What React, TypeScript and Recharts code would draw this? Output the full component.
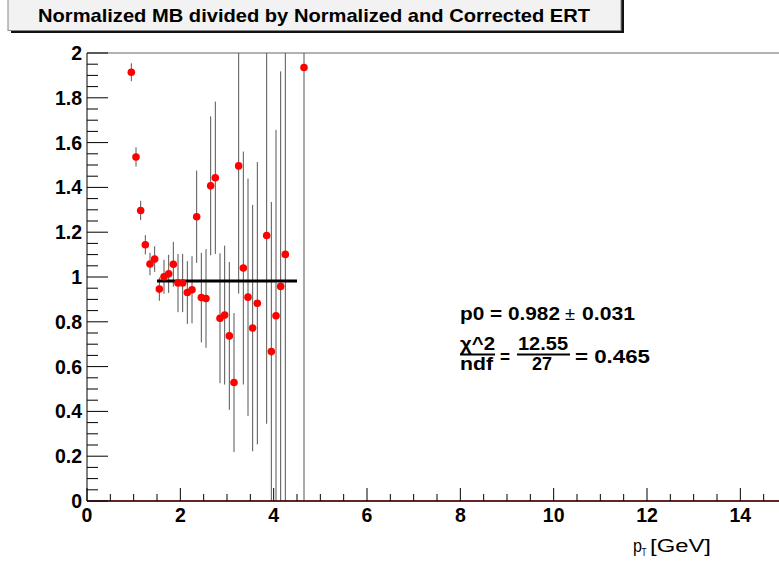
import React from 'react';
import { ComposedChart, Scatter, XAxis, YAxis, ErrorBar, ReferenceLine, Line } from 'recharts';

const ptValues = [0.95, 1.05, 1.15, 1.25, 1.35, 1.45, 1.55, 1.65, 1.75, 1.85, 1.95, 2.05, 2.15, 2.25, 2.35, 2.45, 2.55, 2.65, 2.75, 2.85, 2.95, 3.05, 3.15, 3.25, 3.35, 3.45, 3.55, 3.65, 3.85, 3.95, 4.05, 4.15, 4.25, 4.65];
const ratioValues = [1.914, 1.536, 1.297, 1.144, 1.058, 1.080, 0.946, 1.001, 1.014, 1.057, 0.973, 0.973, 0.931, 0.943, 1.269, 0.908, 0.904, 1.407, 1.443, 0.816, 0.830, 0.737, 0.529, 1.496, 1.040, 0.910, 0.772, 0.883, 1.185, 0.667, 0.827, 0.958, 1.101, 1.935];
// visible (drawn) lower / upper error extents
const ratioErrLow = [0.04, 0.043, 0.043, 0.043, 0.05, 0.057, 0.052, 0.076, 0.085, 0.1, 0.13, 0.13, 0.14, 0.15, 0.206, 0.2, 0.22, 0.31, 0.34, 0.29, 0.31, 0.33, 0.31, 0.57, 0.52, 0.53, 0.55, 0.63, 0.84, 0.667, 0.827, 0.958, 1.101, 1.935];
const ratioErrHigh = [0.04, 0.043, 0.043, 0.043, 0.05, 0.057, 0.052, 0.076, 0.085, 0.1, 0.13, 0.13, 0.14, 0.15, 0.206, 0.2, 0.22, 0.31, 0.34, 0.29, 0.31, 0.33, 0.31, 0.504, 0.52, 0.53, 0.55, 0.63, 0.815, 0.668, 0.83, 0.96, 0.899, 0.065];

const fitPt = [1.5, 4.5];
const fitP0 = 0.982;

const xTicks = [0, 0.5, 1, 1.5, 2, 2.5, 3, 3.5, 4, 4.5, 5, 5.5, 6, 6.5, 7, 7.5, 8, 8.5, 9, 9.5, 10, 10.5, 11, 11.5, 12, 12.5, 13, 13.5, 14, 14.5, 15];
const xMajor = [0, 2, 4, 6, 8, 10, 12, 14];
const yTicks = [0, 0.05, 0.1, 0.15, 0.2, 0.25, 0.3, 0.35, 0.4, 0.45, 0.5, 0.55, 0.6, 0.65, 0.7, 0.75, 0.8, 0.85, 0.9, 0.95, 1, 1.05, 1.1, 1.15, 1.2, 1.25, 1.3, 1.35, 1.4, 1.45, 1.5, 1.55, 1.6, 1.65, 1.7, 1.75, 1.8, 1.85, 1.9, 1.95, 2];
const yMajor = [0, 0.2, 0.4, 0.6, 0.8, 1, 1.2, 1.4, 1.6, 1.8, 2];
const yLabels = ['0', '0.2', '0.4', '0.6', '0.8', '1', '1.2', '1.4', '1.6', '1.8', '2'];

const data = ptValues.map((pt, i) => ({ pt, ratio: ratioValues[i], err: [ratioErrLow[i], ratioErrHigh[i]] }));
const fitData = fitPt.map((pt) => ({ pt, fit: fitP0 }));

const FONT = '"Liberation Sans", Arial, Helvetica, sans-serif';

const isIn = (arr: number[], v: number) => arr.findIndex((a) => Math.abs(a - v) < 1e-6);

const YTick = (props: any) => {
  const { x, y, payload } = props;
  const idx = isIn(yMajor, payload.value);
  const major = idx >= 0;
  return (
    <g>
      <line x1={x} x2={x + (major ? 21 : 11)} y1={y} y2={y} stroke="#000" strokeWidth={1} />
      {major && (
        <text x={x - 5} y={y} dy="0.36em" textAnchor="end" fontFamily={FONT} fontWeight="bold" fontSize={19.5} fill="#000">
          {yLabels[idx]}
        </text>
      )}
    </g>
  );
};

const XTick = (props: any) => {
  const { x, y, payload } = props;
  const major = isIn(xMajor, payload.value) >= 0;
  return (
    <g>
      <line x1={x} x2={x} y1={y} y2={y - (major ? 13 : 7)} stroke="#000" strokeWidth={1} />
      {major && (
        <text x={x} y={y + 21} textAnchor="middle" fontFamily={FONT} fontWeight="bold" fontSize={19.5} fill="#000">
          {String(payload.value)}
        </text>
      )}
    </g>
  );
};

const Dot = (props: any) => <circle cx={props.cx} cy={props.cy} r={3.8} fill="#ff0000" />;

export default function App() {
  return (
    <div style={{ position: 'absolute', left: 0, top: 0, width: 779, height: 563, overflow: 'hidden', background: '#fff' }}>
      <ComposedChart width={790} height={563} data={data} margin={{ top: 53, right: 3, bottom: 0, left: 0 }}>
        <XAxis
          type="number"
          dataKey="pt"
          domain={[0, 15]}
          ticks={xTicks}
          interval={0}
          allowDataOverflow
          tickSize={0}
          tickMargin={0}
          tick={<XTick />}
          height={62}
          axisLine={{ stroke: '#000', strokeWidth: 1 }}
          tickLine={false}
        />
        <YAxis
          type="number"
          domain={[0, 2]}
          ticks={yTicks}
          interval={0}
          allowDataOverflow
          tickSize={0}
          tickMargin={0}
          tick={<YTick />}
          width={87}
          axisLine={{ stroke: '#000', strokeWidth: 1 }}
          tickLine={false}
        />
        <ReferenceLine y={2} stroke="#999" strokeWidth={1.5} />
        <Scatter data={data} dataKey="ratio" shape={<Dot />} isAnimationActive={false}>
          <ErrorBar dataKey="err" direction="y" width={0} stroke="#555" strokeWidth={1} />
        </Scatter>
        <Line data={fitData} dataKey="fit" stroke="#000" strokeWidth={3} dot={false} isAnimationActive={false} />
        <ReferenceLine y={0} stroke="#b01010" strokeWidth={1.5} />
      </ComposedChart>
      <svg width={779} height={563} style={{ position: 'absolute', left: 0, top: 0, pointerEvents: 'none' }}>
        <rect x={11} y={-5} width={613} height={38} fill="#111" />
        <rect x={8} y={-8} width={613} height={38.5} fill="#f2f2f2" stroke="#888" strokeWidth={1} />
        <text x={38} y={22} fontFamily={FONT} fontWeight="bold" fontSize={18.5} fill="#000" textLength={552} lengthAdjust="spacingAndGlyphs">
          Normalized MB divided by Normalized and Corrected ERT
        </text>
        <g fontFamily={FONT} fontWeight="bold" fontSize={17.5} fill="#000">
          <text x={460} y={320} textLength={100} lengthAdjust="spacingAndGlyphs">p0 = 0.982</text>
          <text x={565} y={320} fontWeight="normal" textLength={10} lengthAdjust="spacingAndGlyphs">±</text>
          <text x={582} y={320} textLength={53} lengthAdjust="spacingAndGlyphs">0.031</text>
          <text x={460} y={350} textLength={35} lengthAdjust="spacingAndGlyphs">χ^2</text>
          <text x={460} y={370} textLength={33} lengthAdjust="spacingAndGlyphs">ndf</text>
          <line x1={460} x2={495} y1={354.5} y2={354.5} stroke="#000" strokeWidth={2} />
          <text x={500} y={363} textLength={10} lengthAdjust="spacingAndGlyphs">=</text>
          <text x={518} y={350} textLength={50} lengthAdjust="spacingAndGlyphs">12.55</text>
          <text x={532} y={370} textLength={20} lengthAdjust="spacingAndGlyphs">27</text>
          <line x1={517} x2={570} y1={354.5} y2={354.5} stroke="#000" strokeWidth={2} />
          <text x={575} y={363} textLength={75} lengthAdjust="spacingAndGlyphs">= 0.465</text>
        </g>
        <g fontFamily={FONT} fill="#000">
          <text x={633} y={552} fontSize={18} textLength={9} lengthAdjust="spacingAndGlyphs">p</text>
          <text x={641.5} y={556} fontSize={10} textLength={5} lengthAdjust="spacingAndGlyphs">T</text>
          <text x={650} y={552} fontSize={18} textLength={61} lengthAdjust="spacingAndGlyphs">[GeV]</text>
        </g>
      </svg>
    </div>
  );
}
